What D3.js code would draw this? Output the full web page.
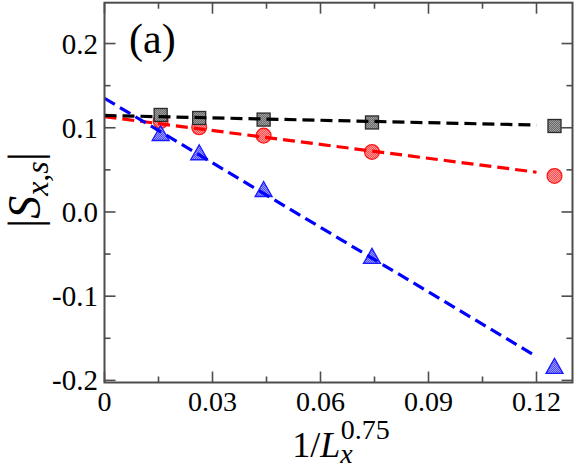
<!DOCTYPE html>
<html><head><meta charset="utf-8">
<script src="https://cdn.jsdelivr.net/npm/d3@7"></script>
<style>body{margin:0;background:#fff}svg{display:block}
text{font-family:"Liberation Serif","Times New Roman",Times,"Nimbus Roman","TeX Gyre Termes",FreeSerif,"DejaVu Serif","Noto Serif",serif}</style>
</head><body>
<script>
const xVals = [0.0156, 0.0263, 0.0442, 0.0743, 0.125];
const blackVals = [0.1152, 0.1116, 0.1097, 0.1063, 0.1021];
const redVals = [0.1080, 0.1006, 0.0906, 0.0713, 0.0428];
const blueVals = [0.0926, 0.0697, 0.0261, -0.0534, -0.184];
const blackFit = [0.1146, -0.095];
const redFit = [0.1132, -0.55];
const blueFit = [0.135, -2.555];
const fitRange = [0, 0.12];
const xTicks = [0, 0.03, 0.06, 0.09, 0.12];
const xTickLabels = ["0", "0.03", "0.06", "0.09", "0.12"];
const xMinor = [0.015, 0.045, 0.075, 0.105];
const yTicks = [-0.2, -0.1, 0, 0.1, 0.2];
const yTickLabels = ["-0.2", "-0.1", "0.0", "0.1", "0.2"];
const yMinor = [-0.15, -0.05, 0.05, 0.15];

const W = 576, H = 469;
const svg = d3.select("body").append("svg").attr("width", W).attr("height", H);
const x = d3.scaleLinear().domain([0, 0.13]).range([104.5, 572.5]);
const y = d3.scaleLinear().domain([-0.2025, 0.2485]).range([382.5, 2.7]);
const L = x.range()[0], R = x.range()[1], T = y.range()[1], B = y.range()[0];

const defs = svg.append("defs");
function checker(id, c1, c2) {
  const p = defs.append("pattern").attr("id", id).attr("width", 2).attr("height", 2).attr("patternUnits", "userSpaceOnUse");
  p.append("rect").attr("width", 2).attr("height", 2).attr("fill", c1);
  p.append("rect").attr("width", 1).attr("height", 1).attr("fill", c2);
  p.append("rect").attr("x", 1).attr("y", 1).attr("width", 1).attr("height", 1).attr("fill", c2);
}
checker("pk", "#6a6a6a", "#a0a0a0");
checker("pr", "#ff4c4c", "#ff9a9a");
checker("pb", "#4c4cff", "#9a9aff");
defs.append("clipPath").attr("id", "clip").append("rect").attr("x", L).attr("y", T).attr("width", R - L).attr("height", B - T);

const frameColor = "#4d4d4d";
const g = svg.append("g");
function tick(x1, y1, x2, y2) {
  g.append("line").attr("x1", x1).attr("y1", y1).attr("x2", x2).attr("y2", y2)
    .attr("stroke", frameColor).attr("stroke-width", 1.6);
}
xTicks.forEach(v => { tick(x(v), B, x(v), B - 11); tick(x(v), T, x(v), T + 11); });
xMinor.forEach(v => { tick(x(v), B, x(v), B - 6); tick(x(v), T, x(v), T + 6); });
yTicks.forEach(v => { tick(L, y(v), L + 11, y(v)); tick(R, y(v), R - 11, y(v)); });
yMinor.forEach(v => { tick(L, y(v), L + 6, y(v)); tick(R, y(v), R - 6, y(v)); });

svg.append("g").selectAll("text").data(xTicks).join("text")
  .attr("x", d => x(d)).attr("y", 411).attr("text-anchor", "middle")
  .attr("font-size", 28).text((d, i) => xTickLabels[i]);
svg.append("g").selectAll("text").data(yTicks).join("text")
  .attr("x", 98).attr("y", d => y(d) + 10).attr("text-anchor", "end")
  .attr("font-size", 29).text((d, i) => yTickLabels[i]);

const data = xVals.map((v, i) => ({x: v, k: blackVals[i], r: redVals[i], b: blueVals[i]}));
const mk = svg.append("g").attr("clip-path", "url(#clip)");
mk.selectAll("circle").data(data).join("circle")
  .attr("cx", d => x(d.x)).attr("cy", d => y(d.r)).attr("r", 7.4)
  .attr("fill", "url(#pr)").attr("stroke", "#ff1a1a").attr("stroke-width", 1.3);
mk.selectAll("rect.sq").data(data).join("rect").attr("class", "sq")
  .attr("x", d => x(d.x) - 6.5).attr("y", d => y(d.k) - 6.5).attr("width", 13).attr("height", 13)
  .attr("fill", "url(#pk)").attr("stroke", "#2a2a2a").attr("stroke-width", 1.3);
mk.selectAll("path.tri").data(data).join("path").attr("class", "tri")
  .attr("d", d => { const cx = x(d.x), cy = y(d.b); return `M${cx},${cy - 8.5}L${cx + 8.5},${cy + 6.5}L${cx - 8.5},${cy + 6.5}Z`; })
  .attr("fill", "url(#pb)").attr("stroke", "#1a1aff").attr("stroke-width", 1.3);

const fits = [[redFit, "#ff0000"], [blackFit, "#000000"], [blueFit, "#0000ff"]];
const line = d3.line().x(d => x(d[0])).y(d => y(d[1]));
fits.forEach(([f, c]) => {
  mk.append("path").datum(fitRange.map(v => [v, f[0] + f[1] * v]))
    .attr("d", line).attr("fill", "none").attr("stroke", c).attr("stroke-width", 3.2)
    .attr("stroke-dasharray", "12,6");
});

svg.append("rect").attr("x", L).attr("y", T).attr("width", R - L).attr("height", B - T)
  .attr("fill", "none").attr("stroke", frameColor).attr("stroke-width", 2);

svg.append("text").attr("x", 129).attr("y", 53).attr("font-size", 42).text("(a)");

const xt = svg.append("text").attr("x", 341).attr("y", 457).attr("text-anchor", "middle")
  .attr("font-size", 36);
xt.append("tspan").text("1/");
xt.append("tspan").attr("font-style", "italic").text("L");
xt.append("tspan").attr("font-size", 28).attr("dy", 6).attr("font-style", "italic").text("x");
xt.append("tspan").attr("font-size", 28).attr("dx", -12).attr("dy", -24).text("0.75");

const yt = svg.append("text").attr("transform", "translate(40,190) rotate(-90)").attr("text-anchor", "middle")
  .attr("font-size", 46);
yt.append("tspan").text("|");
yt.append("tspan").attr("font-style", "italic").text("S");
yt.append("tspan").attr("font-style", "italic").attr("font-size", 32).attr("dy", 8).text("x,s");
yt.append("tspan").attr("dy", -8).text("|");
</script>
</body></html>
